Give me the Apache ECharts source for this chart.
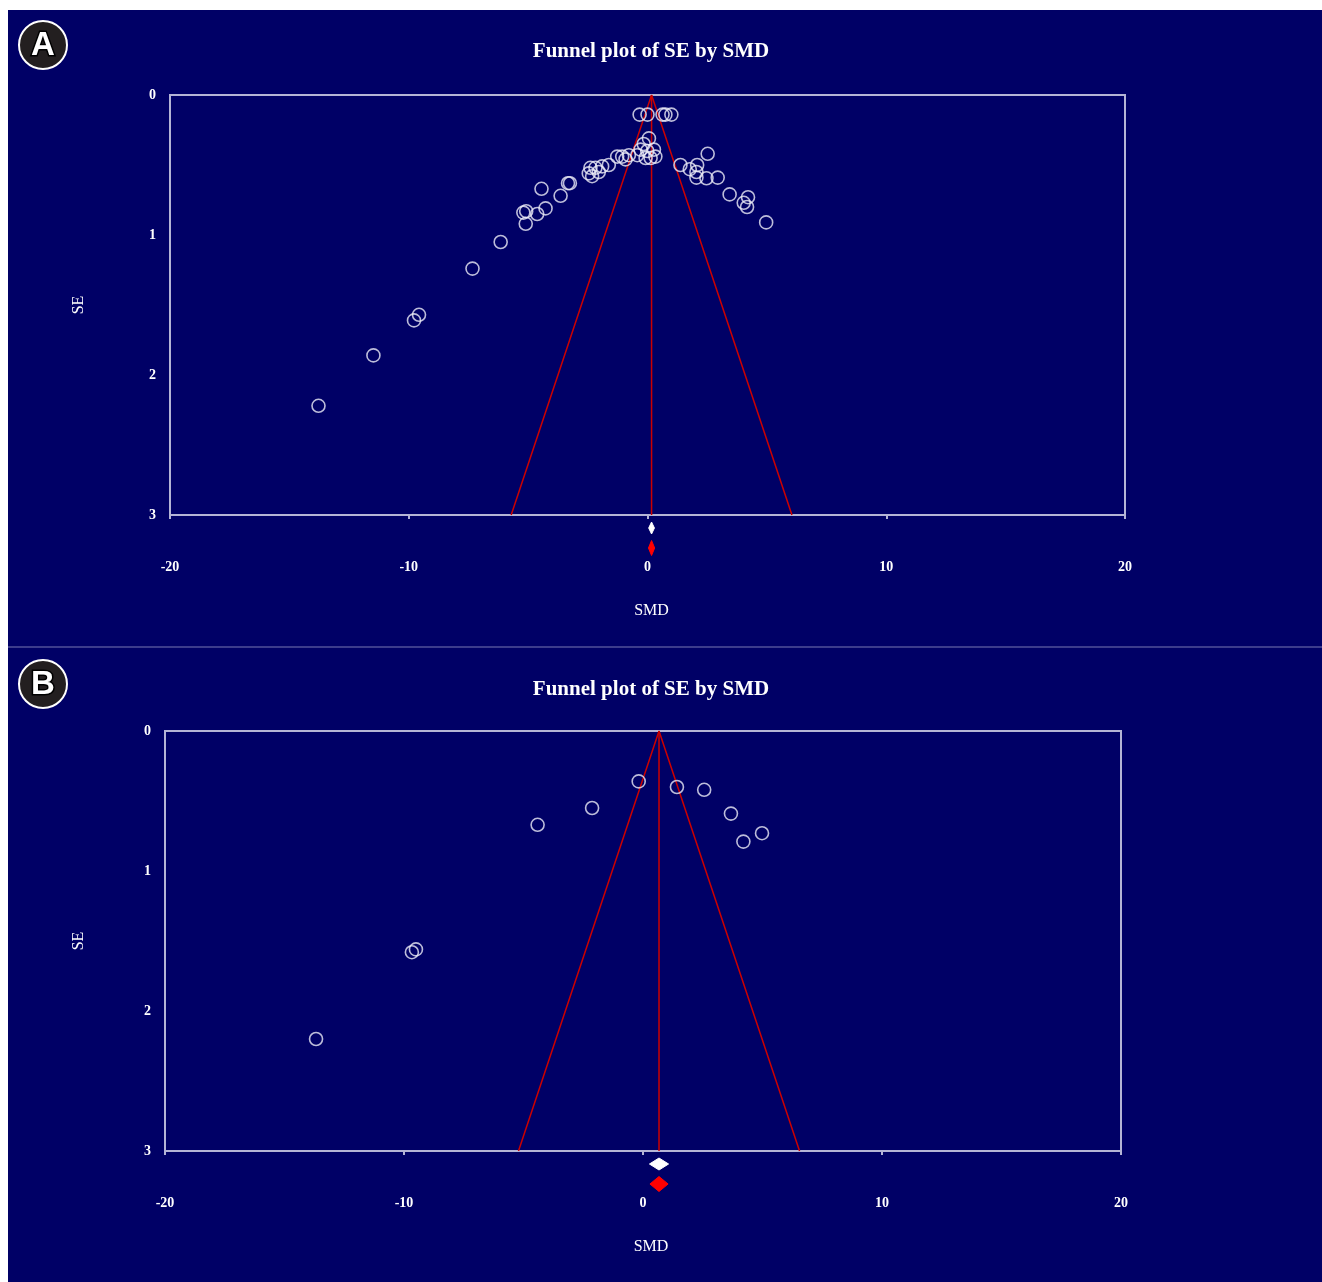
<!DOCTYPE html>
<html>
<head>
<meta charset="utf-8">
<title>Funnel plots</title>
<script src="https://cdn.jsdelivr.net/npm/echarts@6/dist/echarts.min.js"></script>
<style>
  html, body { margin: 0; padding: 0; background: #ffffff; }
  #wrap { position: relative; width: 1322px; height: 1282px; }
  .panel { position: absolute; left: 8px; width: 1314px; background: #000066; }
  #bgA { top: 10px; height: 636px; }
  #bgB { top: 648px; height: 634px; }
  #sep { position: absolute; left: 8px; width: 1314px; top: 646px; height: 2px; background: #3c3c8c; }
  #chart { position: absolute; left: 0; top: 0; width: 1322px; height: 1282px; }
</style>
</head>
<body>
<div id="wrap">
  <div class="panel" id="bgA"></div>
  <div id="sep"></div>
  <div class="panel" id="bgB"></div>
  <div id="chart"></div>
</div>
<script>
// ---- Panel A: all studies ----
const smdA = [
  -0.33, 0.00, 0.63, 0.75, 1.00,
  0.06, -0.16, -0.29, -0.01, 0.27, 0.33, -0.08, 0.13, -0.43, -0.78, -1.06, -1.27, -0.92,
  -1.62, -1.90, -2.18, -2.39, -2.46, -2.32, -2.04,
  1.38, 2.52, 2.08, 1.77, 2.05, 2.05, 2.47, 2.94,
  3.44, 4.21, 4.03, 4.17, 4.97,
  -3.33, -3.25, -4.44, -3.64, -4.27, -4.62, -5.20, -5.08, -5.10,
  -6.15, -7.33, -9.78, -9.57, -11.48, -13.78
];
const seA = [
  0.14, 0.14, 0.14, 0.14, 0.14,
  0.31, 0.35, 0.39, 0.40, 0.39, 0.44, 0.45, 0.45, 0.43, 0.43, 0.44, 0.44, 0.46,
  0.50, 0.51, 0.52, 0.52, 0.56, 0.58, 0.55,
  0.50, 0.42, 0.50, 0.53, 0.55, 0.59, 0.595, 0.59,
  0.71, 0.73, 0.77, 0.80, 0.91,
  0.63, 0.63, 0.67, 0.72, 0.81, 0.85, 0.84, 0.83, 0.92,
  1.05, 1.24, 1.61, 1.57, 1.86, 2.22
];
const meanA = 0.17;
// summary estimates: [mean, lower, upper]
const summaryWhiteA = [0.17, 0.05, 0.29];
const summaryRedA = [0.17, 0.04, 0.30];

// ---- Panel B: subset of studies ----
const smdB = [-0.18, 1.42, 2.56, -2.13, -4.41, 3.68, 4.98, 4.20, -9.67, -9.50, -13.68];
const seB = [0.36, 0.40, 0.42, 0.55, 0.67, 0.59, 0.73, 0.79, 1.58, 1.56, 2.20];
const meanB = 0.67;
const summaryWhiteB = [0.67, 0.27, 1.07];
const summaryRedB = [0.67, 0.29, 1.05];

// ---- axis settings ----
const smdTicks = { min: -20, max: 20, interval: 10 };
const seTicks = { min: 0, max: 3, interval: 1 };
const Z = 1.96;

const SERIF = '"Liberation Serif", "Times New Roman", serif';
const FRAME = '#b4b4d6';
const RED = '#cc0000';

function pairs(xs, ys) { return xs.map((x, i) => [x, ys[i]]); }
function funnel(m) {
  return [[m - Z * seTicks.max, seTicks.max], [m, 0], [m + Z * seTicks.max, seTicks.max]];
}
function midline(m) { return [[m, 0], [m, seTicks.max]]; }

function diamondSeries(idx, item, color, offset, halfH) {
  return {
    type: 'custom',
    xAxisIndex: idx, yAxisIndex: idx,
    clip: false,
    silent: true,
    data: [item],
    renderItem: function (params, api) {
      const c = api.coord([api.value(0), seTicks.max]);
      const l = api.coord([api.value(1), seTicks.max]);
      const r = api.coord([api.value(2), seTicks.max]);
      const y = c[1] + offset;
      return {
        type: 'polygon',
        shape: { points: [[l[0], y], [c[0], y - halfH], [r[0], y], [c[0], y + halfH]] },
        style: { fill: color, stroke: color, lineWidth: 1 }
      };
    },
    z: 5
  };
}

function xAxisFor(idx, namePad) {
  return {
    gridIndex: idx, type: 'value',
    min: smdTicks.min, max: smdTicks.max, interval: smdTicks.interval,
    position: 'bottom',
    name: 'SMD', nameLocation: 'middle', nameGap: 88,
    nameTextStyle: { color: '#ffffff', fontFamily: SERIF, fontSize: 16, padding: [0, 0, 0, namePad] },
    axisLine: { show: false, onZero: false },
    axisTick: { show: true, length: 4, lineStyle: { color: FRAME, width: 2 } },
    axisLabel: { color: '#ffffff', fontFamily: SERIF, fontWeight: 'bold', fontSize: 14, margin: 45 },
    splitLine: { show: false }
  };
}
function yAxisFor(idx, gap) {
  return {
    gridIndex: idx, type: 'value', inverse: true,
    min: seTicks.min, max: seTicks.max, interval: seTicks.interval,
    name: 'SE', nameLocation: 'middle', nameGap: gap, nameRotate: 90,
    nameTextStyle: { color: '#ffffff', fontFamily: SERIF, fontSize: 16 },
    axisLine: { show: false, onZero: false },
    axisTick: { show: false },
    axisLabel: { color: '#ffffff', fontFamily: SERIF, fontWeight: 'bold', fontSize: 14, margin: 14 },
    splitLine: { show: false }
  };
}

function studySeries(idx, xs, ys) {
  return {
    type: 'scatter', xAxisIndex: idx, yAxisIndex: idx,
    data: pairs(xs, ys),
    symbol: 'circle', symbolSize: 13,
    itemStyle: { color: 'rgba(0,0,0,0)', borderColor: '#ececf8', borderWidth: 1.6 },
    z: 4, silent: true
  };
}
function lineSeries(idx, data) {
  return {
    type: 'line', xAxisIndex: idx, yAxisIndex: idx,
    data: data, symbol: 'none', silent: true,
    lineStyle: { color: RED, width: 1.5 }, z: 3
  };
}

function badge(cx, cy, letter) {
  return {
    type: 'group',
    children: [
      { type: 'circle', shape: { cx: cx, cy: cy, r: 24 },
        style: { fill: '#231f20', stroke: '#ffffff', lineWidth: 2 } },
      { type: 'text', x: cx, y: cy + 1,
        style: { text: letter, fill: '#ffffff', stroke: '#000000', lineWidth: 3,
                 font: 'bold 33px "Liberation Sans", Arial, sans-serif',
                 align: 'center', verticalAlign: 'middle' } }
    ]
  };
}
function heading(x, y) {
  return { type: 'text', x: x, y: y,
    style: { text: 'Funnel plot of SE by SMD', fill: '#ffffff',
             font: 'bold 21px ' + SERIF, align: 'center', verticalAlign: 'middle' } };
}

const chart = echarts.init(document.getElementById('chart'), null, { renderer: 'canvas' });
chart.setOption({
  backgroundColor: 'transparent',
  animation: false,
  grid: [
    { left: 170, top: 95, width: 955, height: 420, show: true,
      borderColor: FRAME, borderWidth: 2, backgroundColor: 'transparent' },
    { left: 165, top: 731, width: 956, height: 420, show: true,
      borderColor: FRAME, borderWidth: 2, backgroundColor: 'transparent' }
  ],
  xAxis: [xAxisFor(0, 8), xAxisFor(1, 16)],
  yAxis: [yAxisFor(0, 83), yAxisFor(1, 78)],
  graphic: [
    badge(43, 45, 'A'),
    badge(43, 684, 'B'),
    heading(651, 52),
    heading(651, 690)
  ],
  series: [
    lineSeries(0, funnel(meanA)),
    lineSeries(0, midline(meanA)),
    studySeries(0, smdA, seA),
    diamondSeries(0, summaryWhiteA, '#ffffff', 13, 6),
    diamondSeries(0, summaryRedA, '#ff0000', 33, 7.5),

    lineSeries(1, funnel(meanB)),
    lineSeries(1, midline(meanB)),
    studySeries(1, smdB, seB),
    diamondSeries(1, summaryWhiteB, '#ffffff', 13, 6),
    diamondSeries(1, summaryRedB, '#ff0000', 33, 7.5)
  ]
});
</script>
</body>
</html>
